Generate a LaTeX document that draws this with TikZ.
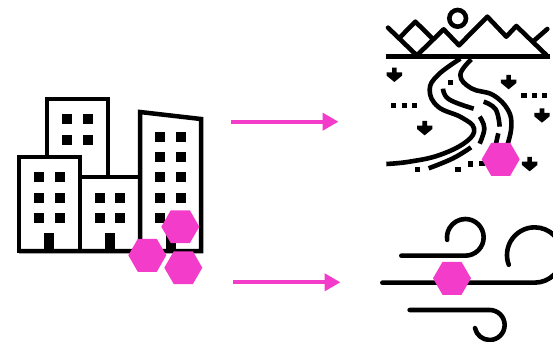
\documentclass[tikz,border=0pt]{standalone}
\usetikzlibrary{arrows.meta, shapes.geometric}

\definecolor{hexpink}{HTML}{F33CCA}

\tikzset{
    outline/.style={line width=4.5pt, line join=miter},
    stroke/.style={line width=4.6pt, line cap=round, line join=round},
    hexspot/.style={regular polygon, regular polygon sides=6, fill=hexpink, minimum size=38pt, inner sep=0pt, outer sep=0pt},
    flow/.style={-{Triangle[length=16pt,width=17pt]}, hexpink, line width=4pt}
}

\begin{document}
\begin{tikzpicture}[x=1pt, y=-1pt]

\useasboundingbox (0,0) rectangle (553,341);

% Buildings
\draw[outline] (47,157) -- (47,99) -- (108,99) -- (108,177);
\draw[outline] (19,251) rectangle (80,157);
\draw[outline] (80,177) -- (140,177);
\draw[outline] (19,251) -- (201,251) -- (201,119) -- (140,112) -- (140,251);

% Windows
\foreach \x/\y in {67.3/119.3, 87.7/119.3, 67.3/139.7, 87.7/139.7,
                   39.3/177.3, 59.7/177.3, 39.3/197.7, 59.7/197.7, 39.3/218, 59.7/218,
                   100/197.7, 120/197.7, 100/218, 120/218,
                   160.3/137, 180.7/137, 160.3/157.3, 180.7/157.3, 160.3/177.3, 180.7/177.3,
                   160.3/197.7, 180.7/197.7, 160.3/218, 180.7/218} {
    \fill (\x-5,\y-5) rectangle (\x+5,\y+5);
}

% Doors
\foreach \x in {49.3, 110, 170.7} {
    \fill (\x-5,233) rectangle (\x+5,251);
}

% Landscape, in zoomed units
\begin{scope}[xshift=373pt, x=0.3333pt, y=-0.3333pt]
    \draw[line width=4.7pt] (40,170) -- (530,170);
    \draw[stroke] (45,83) -- (130,165);
    \draw[stroke] (83,110) -- (127,65) -- (178,115);
    \draw[stroke] (133,165) -- (212,88) -- (258,136) -- (343,50) -- (400,110) -- (430,78) -- (520,165);
    \draw[stroke] (483,122) -- (523,87);
    \draw[line width=4.6pt] (254,55) circle (25);

    % River banks
    \draw[stroke, line cap=butt] plot[smooth, tension=0.7] coordinates {(262,176) (195,225) (170,270) (195,320) (265,352) (303,385) (280,425) (200,465) (110,485) (40,492)};
    \draw[stroke, line cap=butt] plot[smooth, tension=0.7] coordinates {(295,178) (262,225) (295,265) (360,285) (405,330) (415,380) (403,435)};

    % Inner dashes
    \draw[stroke, line cap=butt] plot[smooth, tension=0.7] coordinates {(210,266) (228,298) (302,326)};
    \draw[stroke, line cap=butt] plot[smooth, tension=0.7] coordinates {(332,305) (368,328) (380,380)};
    \draw[stroke, line cap=butt] (376,400) -- (368,435);
    \draw[stroke, line cap=butt] plot[smooth, tension=0.7] coordinates {(320,350) (334,385) (320,431)};
    \draw[stroke, line cap=butt] plot[smooth, tension=0.7] coordinates {(294,442) (240,475) (167,505)};

    % Dots
    \foreach \x/\y in {232/247, 62/317, 94/317, 124/317, 453/286, 484/286, 515/286,
                       133/508, 255/508, 293/492, 327/490} {
        \fill (\x-8,\y-8) rectangle (\x+8,\y+8);
    }

    % Small down arrows
    \foreach \x/\y in {64/203, 407/225, 155/363, 507/325, 470/471} {
        \fill (\x-7,\y) -- (\x+7,\y) -- (\x+7,\y+14) -- (\x+23,\y+14) -- (\x+23,\y+24)
              -- (\x,\y+43) -- (\x-23,\y+24) -- (\x-23,\y+14) -- (\x-7,\y+14) -- cycle;
    }
\end{scope}

% Wind, in zoomed units
\begin{scope}[xshift=373pt, yshift=-210pt, x=0.3333pt, y=-0.3333pt]
    \draw[stroke] (85,137) -- (277,137) arc[start angle=90, end angle=-188, radius=55];
    \draw[stroke] (28,218) -- (485,218) arc[start angle=90, end angle=-200.6, radius=83];
    \draw[stroke] (110,300) -- (350,300) arc[start angle=-90, end angle=168, radius=45];
\end{scope}

% Hexagons
\node[hexspot] (hexa) at (180.3,226.7) {};
\node[hexspot] (hexb) at (147.3,255.3) {};
\node[hexspot] (hexc) at (183.3,267.7) {};
\node[hexspot] (hexd) at (500.7,159.3) {};
\node[hexspot] (hexe) at (452,278.3) {};

% Arrows
\coordinate (topstart) at (231,121.7);
\coordinate (topend) at (338.5,121.7);
\coordinate (lowstart) at (233,282.3);
\coordinate (lowend) at (340.5,282.3);
\draw[flow] (topstart) -- (topend);
\draw[flow] (lowstart) -- (lowend);

\end{tikzpicture}
\end{document}
